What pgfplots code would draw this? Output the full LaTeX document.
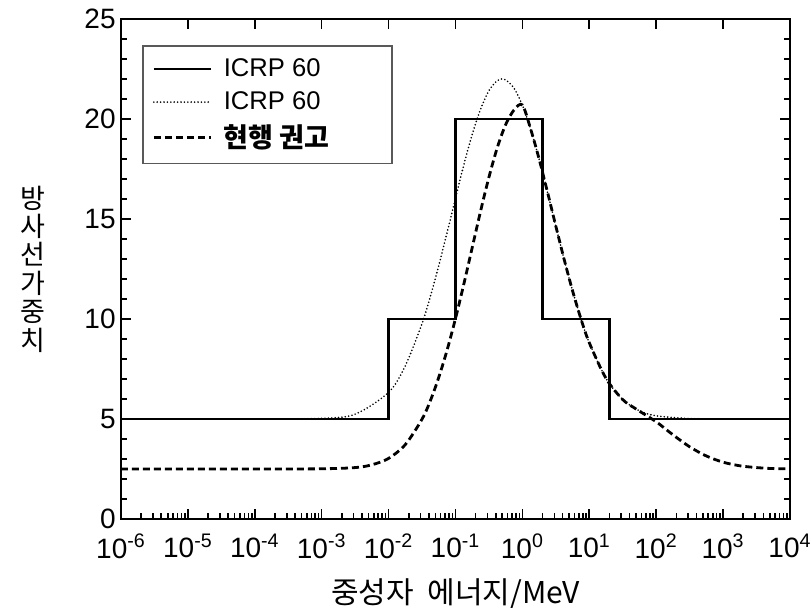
\documentclass[border=0pt]{standalone}
\usepackage{fontspec}
\setmainfont{Liberation Sans}
\newfontfamily\cjk{Noto Sans CJK KR}
\usepackage{pgfplots}
\usepackage{pgfplotstable}
\pgfplotsset{compat=1.18}

% ICRP 60 step function
\pgfplotstableread{
E w
1e-6 5
0.01 5
0.01 10
0.1 10
0.1 20
2 20
2 10
20 10
20 5
1e4 5
}\stepdata

% ICRP 60 continuous curve
\pgfplotstableread{
E w
1e-6 5.00
1e-4 5.00
1e-3 5.03
0.0031623 5.24
0.01 6.33
0.017783 7.66
0.031623 9.77
0.042170 11.13
0.056234 12.67
0.074989 14.33
0.1 16.04
0.13335 17.71
0.17783 19.23
0.23714 20.49
0.31623 21.42
0.42170 21.92
0.5 22.00
0.56234 21.96
0.74989 21.54
1 20.69
1.3335 19.48
1.7783 18.00
2.3714 16.35
3.1623 14.64
4.2170 12.97
5.6234 11.41
7.4989 10.01
10 8.81
17.783 7.03
31.623 5.97
56.234 5.41
100 5.16
316.23 5.02
1000 5.00
10000 5.00
}\dotdata

% current recommendation
\pgfplotstableread{
E w
1e-6 2.50
1e-4 2.50
1e-3 2.51
0.0031623 2.57
0.0056234 2.71
0.01 3.03
0.017783 3.72
0.031623 4.99
0.042170 5.92
0.056234 7.08
0.074989 8.45
0.1 10.02
0.13335 11.75
0.17783 13.57
0.23714 15.39
0.31623 17.09
0.42170 18.57
0.56234 19.72
0.74989 20.45
1 20.70
1.3335 19.48
1.7783 18.00
2.3714 16.35
3.1623 14.64
4.2170 12.97
5.6234 11.41
7.4989 10.01
10 8.81
17.783 7.03
31.623 5.97
50 5.50
100 4.86
177.83 4.21
316.23 3.61
562.34 3.15
1000 2.84
1778.3 2.66
3162.3 2.57
5623.4 2.52
10000 2.51
}\newdata

\begin{document}
\begin{tikzpicture}
\useasboundingbox (-60.5pt,-44.5pt) rectangle (345pt,259.5pt);
\begin{axis}[
  at={(0,0)}, anchor=south west,
  scale only axis, width=334.5pt, height=250pt,
  xmode=log, xmin=1e-6, xmax=1e4, ymin=0, ymax=25,
  axis line style={line width=1pt},
  tick align=inside,
  xtick pos=left, ytick pos=both,
  xtick={1e-6,1e-5,1e-4,1e-3,1e-2,1e-1,1,1e1,1e2,1e3,1e4},
  xticklabels={10\textsuperscript{-6},10\textsuperscript{-5},10\textsuperscript{-4},10\textsuperscript{-3},10\textsuperscript{-2},10\textsuperscript{-1},10\textsuperscript{0},10\textsuperscript{1},10\textsuperscript{2},10\textsuperscript{3},10\textsuperscript{4}},
  ytick={0,5,10,15,20,25},
  yticklabels={0,5,10,15,20,25},
  minor y tick num=4,
  major tick length=5pt, minor tick length=2.8pt,
  every tick/.style={black, line width=0.8pt},
  tick label style={font=\fontsize{14}{16}\selectfont},
  xticklabel style={yshift=-4pt},
  yticklabel style={inner sep=2.5pt},
  xlabel={\cjk 중성자\hspace{0.45em}에너지/MeV},
  xlabel style={at={(axis description cs:0.5,0)}, anchor=center, yshift=-37.5pt, font=\fontsize{15}{17}\selectfont},
  ylabel={방\\사\\선\\가\\중\\치},
  ylabel style={at={(axis description cs:-0.1315,0.5)}, anchor=center, rotate=-90, align=center, font=\cjk\fontsize{13.5}{14.2}\selectfont},
  legend style={at={(axis description cs:0.0314,0.948)}, anchor=north west,
    draw=black!65, line width=0.8pt, font=\fontsize{12.8}{14}\selectfont,
    row sep=2pt, inner xsep=3pt, inner ysep=4.5pt},
  legend cell align=left,
  legend image code/.code={\draw[#1] (2.5pt,0pt) -- (31pt,0pt);\path[draw=none] (0pt,-0.1pt) rectangle (35.5pt,0.1pt);},
]
\addplot[black, line width=1.2pt] table[x=E,y=w] {\stepdata};
\addlegendentry{\makebox[79pt][l]{ICRP 60}}
\addplot[black, line width=0.9pt, line cap=round, dash pattern=on 0pt off 1.7pt, smooth] table[x=E,y=w] {\dotdata};
\addlegendentry{\makebox[79pt][l]{ICRP 60}}
\addplot[black, line width=1.4pt, dash pattern=on 3.5pt off 2pt, smooth] table[x=E,y=w] {\newdata};
\addlegendentry{\makebox[79pt][l]{\cjk\bfseries\fontsize{13.5}{14}\selectfont 현행 권고}}
\end{axis}
\begin{axis}[
  at={(0,0)}, anchor=south west,
  scale only axis, width=334.5pt, height=250pt,
  xmode=log, xmin=1e-6, xmax=1e4, ymin=0, ymax=25,
  axis line style={line width=1pt},
  tick align=inside,
  xtick pos=right, xminorticks=false,
  xtick={1e-6,1e-5,1e-4,1e-3,1e-2,1e-1,1,1e1,1e2,1e3,1e4},
  xticklabels={}, ytick=\empty,
  major tick length=5pt,
  every tick/.style={black, line width=0.8pt},
]
\end{axis}
\end{tikzpicture}
\end{document}
